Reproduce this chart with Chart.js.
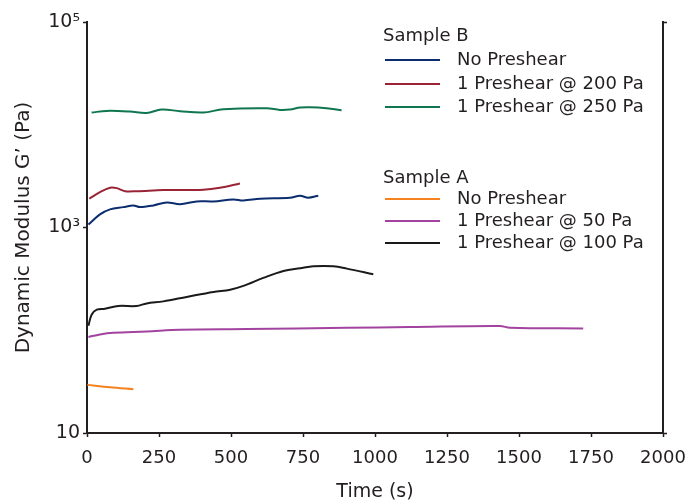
<!DOCTYPE html>
<html>
<head>
<meta charset="utf-8">
<script src="https://cdn.jsdelivr.net/npm/chart.js@4.4.1/dist/chart.umd.min.js"></script>
<style>
  html, body { margin: 0; padding: 0; background: #fff; }
</style>
</head>
<body>
<canvas id="myChart" width="699" height="504"></canvas>
<script>
// tick values
const xTicks = [0, 250, 500, 750, 1000, 1250, 1500, 1750, 2000];
const yTicks = [10, 1000, 100000];
const yTickLabels = ['10', '10³', '10⁵'];

// legend groups
const groupNames = ['Sample B', 'Sample A'];

// Sample B
const bNoTime = [5, 45, 80, 126, 161, 184, 230, 277, 323, 381, 439, 508, 543, 601, 705, 740, 768, 803];
const bNoG = [1069, 1340, 1500, 1579, 1640, 1579, 1640, 1754, 1688, 1795, 1795, 1877, 1834, 1905, 1950, 2038, 1950, 2038];

const b200Time = [8, 45, 80, 103, 132, 172, 265, 404, 462, 531];
const b200G = [1905, 2208, 2437, 2416, 2258, 2258, 2311, 2333, 2437, 2685];

const b250Time = [16, 68, 149, 207, 259, 323, 404, 473, 624, 670, 705, 740, 774, 832, 884];
const b250G = [13150, 13640, 13450, 13030, 14060, 13550, 13150, 14160, 14490, 13930, 14060, 14720, 14830, 14490, 13840];

// Sample A
const aNoTime = [1, 80, 161];
const aNoG = [29.4, 27.9, 26.7];

const a50Time = [5, 45, 91, 207, 323, 555, 902, 1122, 1434, 1469, 1723];
const a50G = [85.9, 91.1, 94.6, 97.3, 101, 102.7, 105.7, 107.4, 109.9, 105.7, 104.2];

const a100Time = [5, 16, 34, 62, 109, 172, 207, 265, 346, 439, 497, 543, 612, 682, 740, 786, 855, 902, 994];
const a100G = [110.7, 141.6, 158.5, 162.2, 172.2, 172.2, 182.5, 191, 211, 236, 248, 270, 323, 378, 401, 419, 419, 398, 350];

const FONT = '"DejaVu Sans", sans-serif';
const INK = '#231f20';

let pts = (xs, ys) => xs.map((x, i) => ({ x: x, y: ys[i] }));

let series = (label, group, color, xs, ys) => ({
  label: label,
  group: group,
  data: pts(xs, ys),
  borderColor: color,
  backgroundColor: color,
  borderWidth: 2,
  pointRadius: 0,
  tension: 0.35,
  fill: false
});

// legend drawn in two groups with headers
const groupLegend = {
  id: 'groupLegend',
  afterDraw(chart) {
    const ctx = chart.ctx;
    const headY = [36, 178];
    const firstGap = [24, 21];
    const rowGap = [23.5, 22];
    ctx.save();
    ctx.font = '18px ' + FONT;
    ctx.textBaseline = 'middle';
    ctx.textAlign = 'left';
    groupNames.forEach((g, gi) => {
      ctx.fillStyle = INK;
      ctx.fillText(g, 383, headY[gi]);
      chart.data.datasets.filter(d => d.group === gi).forEach((d, i) => {
        const ly = Math.round(headY[gi] + firstGap[gi] + i * rowGap[gi]);
        ctx.strokeStyle = d.borderColor;
        ctx.lineWidth = 2;
        ctx.beginPath();
        ctx.moveTo(385, ly);
        ctx.lineTo(440, ly);
        ctx.stroke();
        ctx.fillStyle = INK;
        ctx.fillText(d.label, 457, ly);
      });
    });
    ctx.restore();
  }
};

const ctxEl = document.getElementById('myChart');

new Chart(ctxEl, {
  type: 'line',
  data: {
    datasets: [
      series('No Preshear', 0, '#0b2d6e', bNoTime, bNoG),
      series('1 Preshear @ 200 Pa', 0, '#9a2436', b200Time, b200G),
      series('1 Preshear @ 250 Pa', 0, '#0f7650', b250Time, b250G),
      series('No Preshear', 1, '#f5821f', aNoTime, aNoG),
      series('1 Preshear @ 50 Pa', 1, '#a2449f', a50Time, a50G),
      series('1 Preshear @ 100 Pa', 1, '#1a1a1a', a100Time, a100G)
    ]
  },
  options: {
    responsive: false,
    animation: false,
    layout: { padding: { top: 22, left: 0, right: 0, bottom: 0 } },
    plugins: {
      legend: { display: false },
      tooltip: { enabled: false }
    },
    scales: {
      x: {
        type: 'linear',
        min: 0,
        max: 2000,
        afterBuildTicks: s => { s.ticks = xTicks.map(v => ({ value: v })); },
        afterFit: s => { s.height = 71; },
        ticks: { color: INK, font: { family: FONT, size: 18 }, padding: 11, maxRotation: 0, callback: v => String(v) },
        grid: { drawOnChartArea: false, tickLength: 4, tickColor: INK, tickWidth: 1.5 },
        border: { display: true, color: INK, width: 2 },
        title: { display: true, text: 'Time (s)', color: INK, font: { family: FONT, size: 19 }, padding: { top: 0, bottom: 1 } }
      },
      y: {
        type: 'logarithmic',
        position: 'left',
        min: 10,
        max: 100000,
        afterBuildTicks: s => { s.ticks = yTicks.map(v => ({ value: v })); },
        afterFit: s => { s.width = 87; },
        ticks: {
          color: INK,
          font: { family: FONT, size: 19 },
          padding: 3,
          callback: v => yTickLabels[yTicks.indexOf(v)]
        },
        grid: { drawOnChartArea: false, tickLength: 4, tickColor: INK, tickWidth: 1.5 },
        border: { display: true, color: INK, width: 2 },
        title: { display: true, text: 'Dynamic Modulus G’ (Pa)', color: INK, font: { family: FONT, size: 20 }, padding: { top: 12, bottom: 0 } }
      },
      y2: {
        type: 'logarithmic',
        position: 'right',
        min: 10,
        max: 100000,
        afterBuildTicks: s => { s.ticks = [10, 100000].map(v => ({ value: v })); },
        afterFit: s => { s.width = 36; },
        ticks: { display: false },
        grid: { drawOnChartArea: false, tickLength: 4, tickColor: INK, tickWidth: 1.5 },
        border: { display: true, color: INK, width: 2 }
      }
    }
  },
  plugins: [groupLegend]
});
</script>
</body>
</html>
